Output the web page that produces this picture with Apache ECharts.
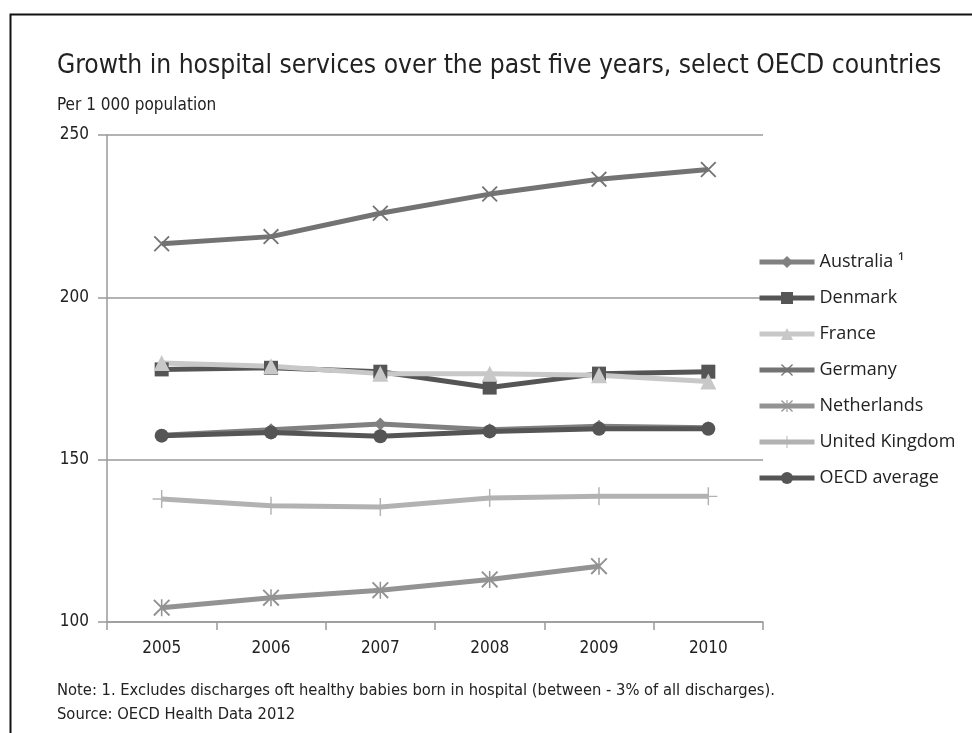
<!DOCTYPE html>
<html>
<head>
<meta charset="utf-8">
<script src="https://cdn.jsdelivr.net/npm/echarts@6/dist/echarts.min.js"></script>
<style>
html,body{margin:0;padding:0;background:#fff;}
#chart{width:972px;height:733px;}
</style>
</head>
<body>
<div id="chart"></div>
<script>
const years = ['2005','2006','2007','2008','2009','2010'];
const australia = [157.5, 159.2, 161.0, 159.2, 160.3, 159.8];
const denmark = [177.8, 178.3, 177.1, 172.2, 176.5, 177.1];
const france = [179.8, 178.8, 176.5, 176.5, 176.0, 174.1];
const germany = [216.5, 218.7, 225.9, 231.8, 236.4, 239.4];
const netherlands = [104.4, 107.5, 109.8, 113.1, 117.2, null];
const unitedKingdom = [137.9, 135.8, 135.4, 138.2, 138.7, 138.7];
const oecdAverage = [157.4, 158.4, 157.2, 158.7, 159.5, 159.5];
const yTicks = [100, 150, 200, 250];

const FONT = "'Liberation Sans Narrow', 'DejaVu Sans Condensed', 'Liberation Sans', sans-serif";
const LFONT = "'Open Sans', 'Noto Sans', sans-serif";

const crossPath = 'path://M0,0.8 L0.8,0 L10,9.2 L9.2,10 Z M9.2,0 L10,0.8 L0.8,10 L0,9.2 Z';
const plusPath = 'path://M4.6,0 L5.4,0 L5.4,10 L4.6,10 Z M0,4.6 L10,4.6 L10,5.4 L0,5.4 Z';
const starPath = 'path://M0,0.8 L0.8,0 L10,9.2 L9.2,10 Z M9.2,0 L10,0.8 L0.8,10 L0,9.2 Z M4.55,0 L5.45,0 L5.45,10 L4.55,10 Z';

function mk(name, data, color, symbol, size) {
  return {
    name: name, type: 'line', data: data,
    symbol: symbol, symbolSize: size, showSymbol: true,
    lineStyle: { color: color, width: 5 },
    itemStyle: { color: color },
    emphasis: { disabled: true },
    animation: false
  };
}

const chart = echarts.init(document.getElementById('chart'), null, { renderer: 'canvas' });
chart.setOption({
  backgroundColor: '#fff',
  animation: false,
  graphic: [{
    type: 'rect', left: 8, top: 12,
    shape: { width: 1000, height: 800 },
    style: { fill: 'none', stroke: '#111', lineWidth: 2 }
  }],
  title: [
    { text: 'Growth in hospital services over the past five years, select OECD countries',
      left: 52, top: 48, textStyle: { fontFamily: FONT, fontSize: 26.2, fontWeight: 'normal', color: '#222' } },
    { text: 'Per 1 000 population',
      left: 52, top: 92, textStyle: { fontFamily: FONT, fontSize: 17, fontWeight: 'normal', color: '#222' } },
    { text: 'Note: 1. Excludes discharges oft healthy babies born in hospital (between - 3% of all discharges).',
      left: 52, top: 678, textStyle: { fontFamily: FONT, fontSize: 16.4, fontWeight: 'normal', color: '#222' } },
    { text: 'Source: OECD Health Data 2012',
      left: 52, top: 702, textStyle: { fontFamily: FONT, fontSize: 16.4, fontWeight: 'normal', color: '#222' } }
  ],
  legend: {
    orient: 'vertical', left: 757, top: 253, padding: 0,
    itemWidth: 55, itemHeight: 15, itemGap: 18,
    lineStyle: { width: 5 },
    textStyle: { fontFamily: LFONT, fontSize: 18, color: '#222' },
    data: ['Australia ¹','Denmark','France','Germany','Netherlands','United Kingdom','OECD average']
  },
  grid: { left: 107, right: 209, top: 135, bottom: 111, containLabel: false },
  xAxis: {
    type: 'category', data: years, boundaryGap: true,
    axisLine: { show: true, lineStyle: { color: '#9a9a9a', width: 1.5 } },
    axisTick: { show: true, length: 8, lineStyle: { color: '#9a9a9a', width: 1.5 } },
    axisLabel: { fontFamily: FONT, fontSize: 17, color: '#222', margin: 18 },
    splitLine: { show: false }
  },
  yAxis: {
    type: 'value', min: yTicks[0], max: yTicks[yTicks.length-1], interval: 50,
    axisLine: { show: true, lineStyle: { color: '#9a9a9a', width: 1.5 } },
    axisTick: { show: true, length: 9, lineStyle: { color: '#9a9a9a', width: 1.5 } },
    axisLabel: { fontFamily: FONT, fontSize: 17, color: '#222', margin: 18 },
    splitLine: { show: true, lineStyle: { color: '#9a9a9a', width: 1.5 } }
  },
  series: [
    mk('Australia ¹', australia, '#808080', 'diamond', 13),
    mk('Denmark', denmark, '#555555', 'rect', 14),
    mk('France', france, '#c8c8c8', 'triangle', 16),
    mk('Germany', germany, '#737373', crossPath, 16),
    mk('Netherlands', netherlands, '#939393', starPath, 17),
    mk('United Kingdom', unitedKingdom, '#b2b2b2', plusPath, 18),
    mk('OECD average', oecdAverage, '#555555', 'circle', 14)
  ]
});
</script>
</body>
</html>
